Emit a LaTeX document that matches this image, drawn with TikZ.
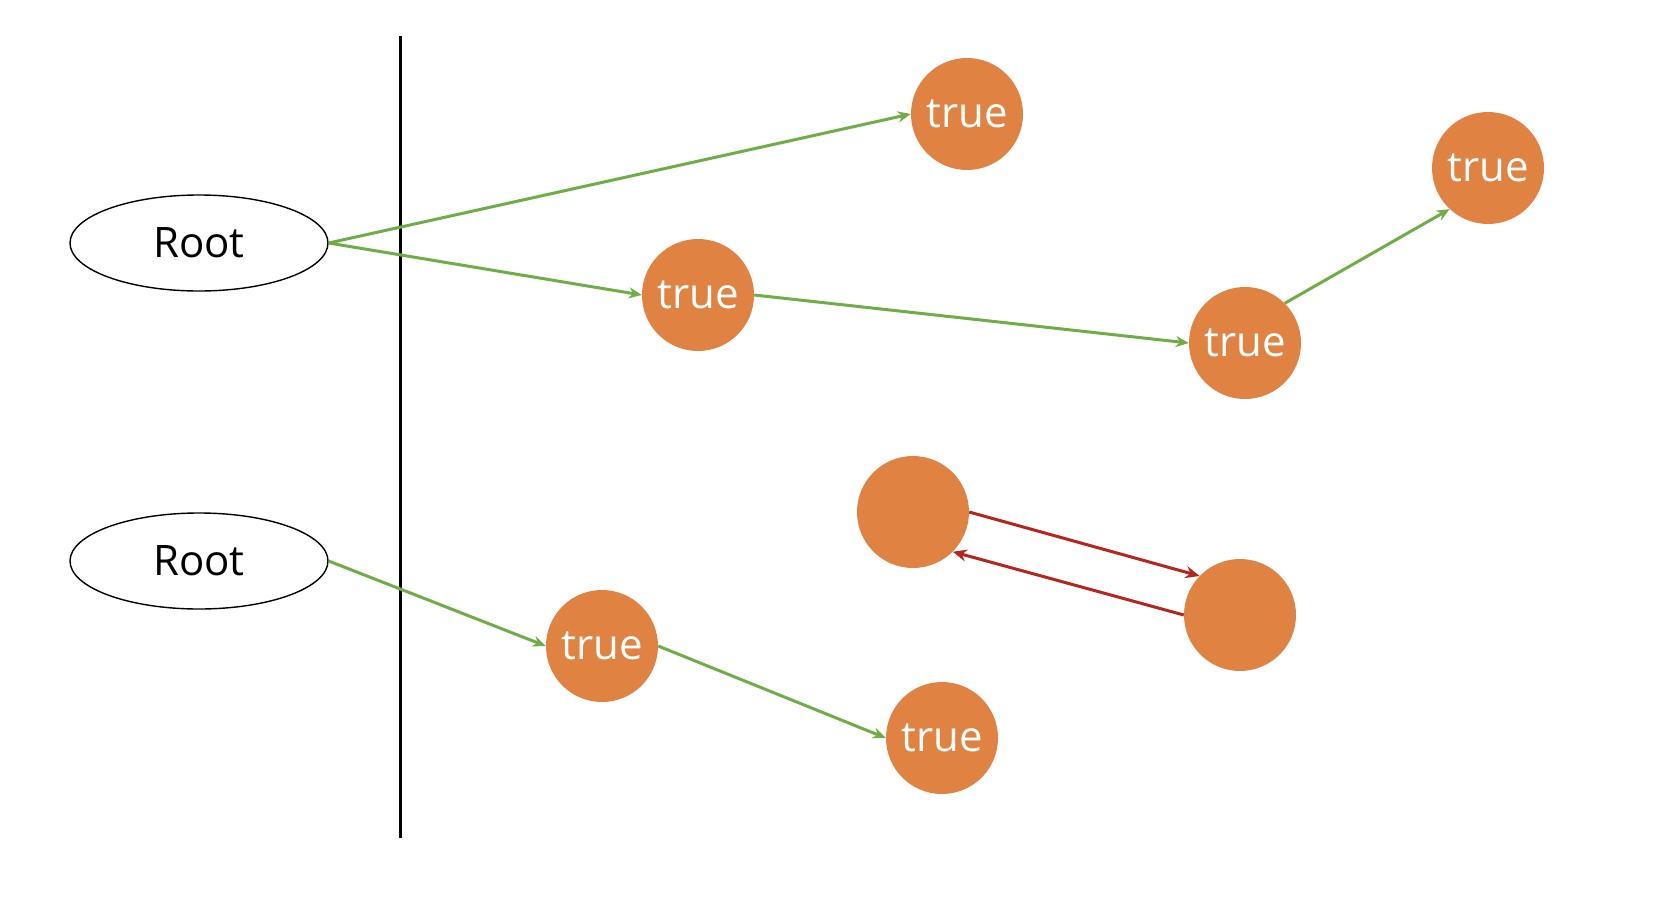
\documentclass[tikz,border=0pt]{standalone}
\usepackage{fontspec}
\setmainfont{Open Sans}
\usetikzlibrary{shapes.geometric, arrows.meta}
\definecolor{nodeorange}{RGB}{224,131,66}
\definecolor{edgegreen}{RGB}{112,173,71}
\definecolor{edgered}{RGB}{181,38,30}
\tikzset{
  rootnode/.style={draw, ellipse, line width=1.4pt, minimum width=258pt, minimum height=96pt, inner sep=0pt, font=\fontsize{42}{50}\selectfont},
  valnode/.style={circle, fill=nodeorange, minimum size=112pt, inner sep=0pt, text=white, font=\fontsize{42}{50}\selectfont},
  okedge/.style={draw=edgegreen, line width=3pt, -{Stealth[length=13pt, width=11pt]}},
  badedge/.style={draw=edgered, line width=3pt, -{Stealth[length=14pt, width=12pt]}}
}
\begin{document}
\begin{tikzpicture}[x=1pt, y=-1pt]
  \useasboundingbox (0,0) rectangle (1670,902);
  % separator
  \coordinate (septop) at (400,36);
  \coordinate (sepbot) at (400,838);
  \draw[line width=3pt] (septop) -- (sepbot);
  % roots
  \node[rootnode] (root1) at (199,243) {Root};
  \node[rootnode] (root2) at (199,561) {Root};
  % nodes of the first tree
  \node[valnode] (t1a) at (967,114) {true};
  \node[valnode] (t1b) at (698,295) {true};
  \node[valnode] (t1c) at (1245,343) {true};
  \node[valnode] (t1d) at (1488,168) {true};
  % cycle
  \node[valnode] (cyc1) at (913,512) {};
  \node[valnode] (cyc2) at (1240,615) {};
  % nodes of the second tree
  \node[valnode] (t2a) at (602,646) {true};
  \node[valnode] (t2b) at (942,738) {true};
  % edges
  \draw[okedge] (root1.east) -- (t1a.west);
  \draw[okedge] (root1.east) -- (t1b.west);
  \draw[okedge] (t1b.east) -- (t1c.west);
  \draw[okedge] (t1c.45) -- (t1d.-133);
  \draw[okedge] (root2.east) -- (t2a.west);
  \draw[okedge] (t2a.east) -- (t2b.west);
  \draw[badedge] (cyc1.east) -- (cyc2.136);
  \draw[badedge] (cyc2.west) -- (cyc1.-45);
\end{tikzpicture}
\end{document}
